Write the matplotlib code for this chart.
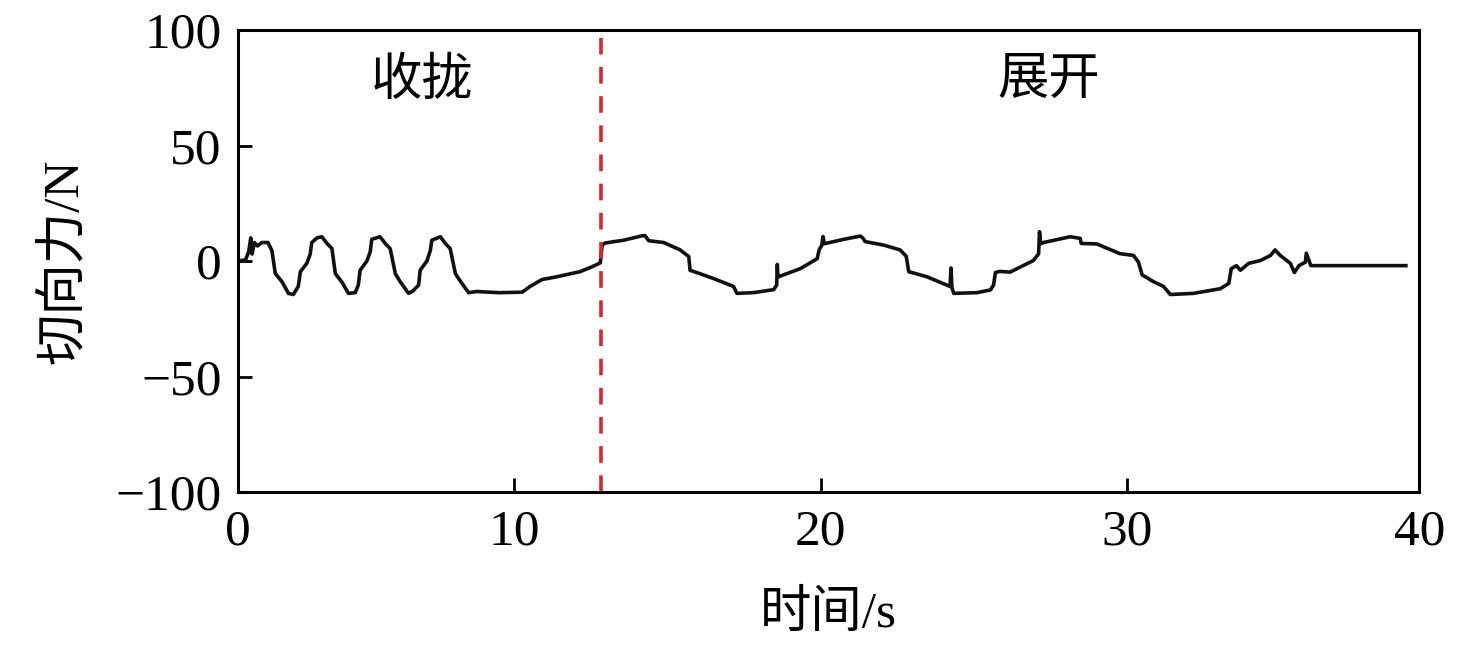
import numpy as np
import matplotlib
matplotlib.use("Agg")
import matplotlib.pyplot as plt

plt.rcParams['font.family'] = ['Liberation Serif', 'Noto Sans CJK SC', 'DejaVu Sans']
plt.rcParams['lines.scale_dashes'] = False

# =========================
# Datos
# =========================
tiempo = [0.99, 1.23, 1.33, 1.40, 1.44, 1.52, 1.62, 1.76, 1.96, 2.09, 2.20, 2.42, 2.63, 2.79,
          2.95, 3.02, 3.23, 3.34, 3.39, 3.56, 3.72, 3.89, 4.05, 4.16, 4.37, 4.59, 4.81,
          4.91, 4.97, 5.19, 5.30, 5.35, 5.62, 5.79, 5.95, 6.12, 6.28, 6.55, 6.69, 6.88,
          6.93, 7.15, 7.26, 7.31, 7.59, 7.75, 7.91, 8.08, 8.23, 8.51, 8.78, 9.49, 10.26,
          10.52, 10.91, 11.40, 12.15, 12.54, 12.81, 12.87, 12.97, 13.57, 14.17, 14.27,
          14.39, 14.88, 15.42, 15.70, 15.74, 16.07, 16.51, 17.16, 17.27, 17.81, 18.47,
          18.57, 18.59, 18.61, 18.69, 19.34, 19.89, 19.96, 20.04, 20.08, 20.13, 20.76,
          21.30, 21.38, 21.46, 22.06, 22.60, 22.80, 22.88, 23.47, 24.23, 24.26, 24.29,
          24.35, 25.11, 25.55, 25.65, 25.71, 25.85, 26.19, 26.95, 27.12, 27.15, 27.19,
          27.28, 28.15, 28.48, 28.51, 29.02, 29.77, 30.22, 30.38, 30.50, 30.88, 31.20,
          31.42, 32.18, 33.05, 33.33, 33.41, 33.58, 33.71, 33.98, 34.36, 34.69, 34.84,
          35.01, 35.34, 35.47, 35.62, 35.83, 35.86, 36.01, 39.11]
fuerza = [0.0, 0.5, 4, 10, 3, 8, 6.5, 8, 8, 4.5, -5.4, -9, -14, -14.5,
          -11, -4.6, -1, 3, 8, 10, 10.5, 7.6, 5.4, -5.5, -9, -14, -13.7,
          -10.4, -4, 0, 4, 9.4, 10.5, 7.6, 5.4, -5.5, -9, -14, -13, -10.4,
          -4, 0, 4.5, 9, 10.5, 7.6, 5.4, -5.5, -8.5, -13.7, -13.2, -13.7, -13.5,
          -11, -8, -6.8, -4.6, -2.5, -0.8, 6.9, 7.8, 9, 10.9, 11,
          8.8, 8, 4.8, 1.9, -4, -5.5, -7.6, -11, -14, -13.7, -12.4,
          -10.4, -1.5, -7, -6.5, -3.3, 1, 5, 6.7, 10.6, 7.5, 9.4,
          10.8, 10, 8.4, 6.9, 4.8, 2, -4.6, -6.8, -11, -3, -11.5,
          -14, -13.7, -12.5, -10.4, -5, -4.5, -4.8, 0.2, 3.1, 12.7, 7.5,
          8, 10.5, 9.8, 7.6, 7.4, 3.2, 2.4, -0.5, -6, -9, -11,
          -14.5, -14, -12, -9.7, -3.3, -2, -4, -1, 0.2, 2.4, 4.8,
          2.4, -1, -5, -2, -0.5, 3.4, -2, -2]

t_limite = 12.84
x_min, x_max = 0.99, 39.55
xticks = [x_min, 10, 20, 30, x_max]
xticklabels = ["0", "10", "20", "30", "40"]
yticks = [-100, -50, 0, 50, 100]

# =========================
# Figura
# =========================
fig = plt.figure(figsize=(14.76, 6.48), dpi=100)
ax = fig.add_axes([0.1614, 0.2407, 0.8002, 0.713])

ax.plot(tiempo, fuerza, color="#111111", lw=2.6)
ax.plot([t_limite, t_limite], [-100, 100], color="#d7282f", lw=2.6, dashes=(12, 9))

ax.text(7.0, 77.5, "收拢", fontsize=37, ha="center", va="center")
ax.text(27.44, 77.5, "展开", fontsize=37, ha="center", va="center")

ax.set_xlim(x_min, x_max)
ax.set_ylim(-100, 100)
ax.set_xticks(xticks)
ax.set_xticklabels(xticklabels)
ax.set_yticks(yticks)
ax.tick_params(direction="in", length=10, width=2, labelsize=37, pad=12)
for s in ax.spines.values():
    s.set_linewidth(2.2)

ax.set_xlabel("时间/s", fontsize=37, labelpad=26)
ax.set_ylabel("切向力/N", fontsize=37, labelpad=20)

fig.savefig("out.png", dpi=100)
